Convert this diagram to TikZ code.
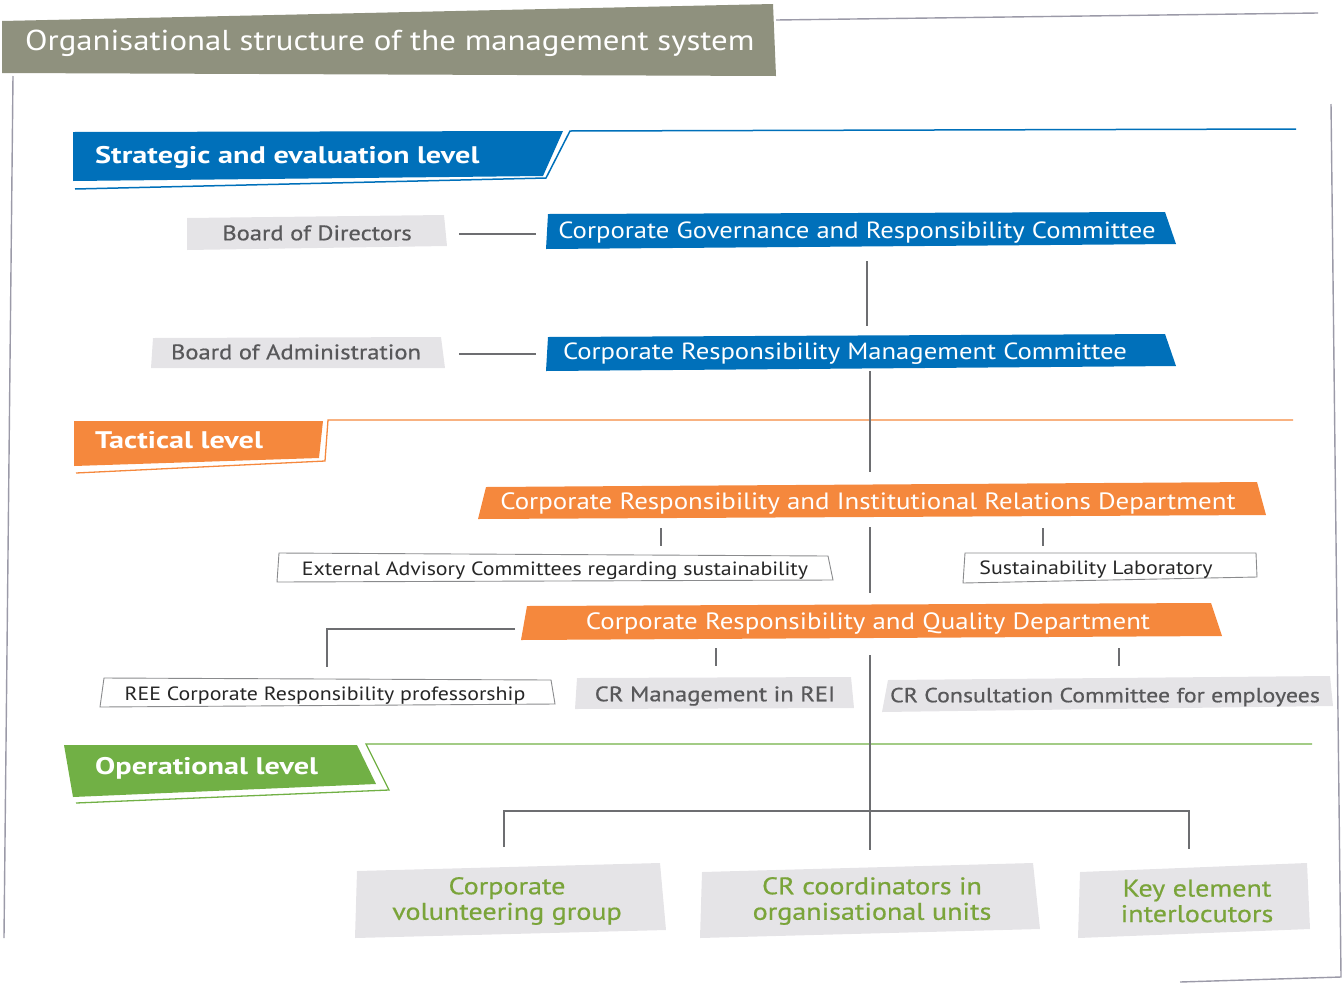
\documentclass[tikz,border=0pt]{standalone}
\usepackage{fontspec}
\setmainfont{PT Sans}[FakeStretch=1.14]
\newfontfamily\medfont{PT Sans}[FakeBold=0.6,FakeStretch=1.17]
\newfontfamily\headfont{PT Sans Bold}[FakeStretch=1.26]
\definecolor{titlegray}{HTML}{8F917E}
\definecolor{reeblue}{HTML}{0070BA}
\definecolor{reeorange}{HTML}{F5883D}
\definecolor{reegreen}{HTML}{71B045}
\definecolor{boxgray}{HTML}{E5E4E7}
\definecolor{textgray}{HTML}{58585A}
\definecolor{greentext}{HTML}{7AA43A}
\definecolor{linkgray}{HTML}{6D6E71}
\definecolor{framegray}{HTML}{9B9AA8}
\begin{document}
\begin{tikzpicture}[x=1pt,y=-1pt,
  frame/.style={draw=framegray,line width=1.4pt},
  link/.style={draw=linkgray,line width=1.2pt},
  lbl/.style={inner sep=0pt,text height=1.0em,text depth=0.05em,anchor=center,yshift=-3.5pt},
  headtxt/.style={lbl,anchor=west,text=white,font=\headfont\fontsize{24}{26}\selectfont},
  bluetxt/.style={lbl,text=white,font=\fontsize{23.4}{26}\selectfont},
  orangetxt/.style={lbl,text=white,font=\fontsize{23.6}{26}\selectfont},
  graytxt/.style={lbl,text=textgray,font=\medfont\fontsize{21}{24}\selectfont},
  outlinetxt/.style={lbl,text=black!85,font=\fontsize{19.2}{22}\selectfont},
  greentxt/.style={inner sep=0pt,align=center,text=greentext,font=\medfont\fontsize{24}{25.5}\selectfont},
]
\useasboundingbox (0,0) rectangle (1343,983);

% ---- page frame and title banner
\draw[frame] (776,20) -- (1318,13);
\draw[frame] (13,76) -- (4,938);
\draw[frame] (1331,104) -- (1341,977) -- (1180,982);
\fill[titlegray] (2,21) -- (773,4) -- (776,76) -- (2,73) -- cycle;
\node[lbl,anchor=west,yshift=-2.5pt,text=white,font=\fontsize{28.8}{32}\selectfont] (title) at (25,40)
  {Organisational structure of the management system};

% ---- level headers
\fill[reeblue] (73,132) -- (563,131) -- (543,176) -- (73,181) -- cycle;
\draw[reeblue,line width=1.5pt] (75,189) -- (546,178) -- (570,131) -- (1296,129);
\node[headtxt] (strategic) at (95,155) {Strategic and evaluation level};

\fill[reeorange] (74,421) -- (323,421) -- (319,458) -- (74,466) -- cycle;
\draw[reeorange,line width=1.3pt] (76,473) -- (325,461) -- (328,420) -- (1293,420);
\node[headtxt] (tactical) at (95,440) {Tactical level};

\fill[reegreen] (64,745) -- (357,745) -- (376,784) -- (73,797) -- cycle;
\draw[reegreen,line width=1.3pt] (76,803) -- (389,790) -- (366,744) -- (1312,744);
\node[headtxt] (operational) at (95,766) {Operational level};

% ---- strategic and evaluation level
\fill[boxgray] (187,218) -- (444,215) -- (447,246) -- (187,250) -- cycle;
\node[graytxt] (bod) at (317,232) {Board of Directors};
\fill[reeblue] (548,214) -- (1165,212) -- (1176,244) -- (546,249) -- cycle;
\node[bluetxt] (cgrc) at (857,230) {Corporate Governance and Responsibility Committee};

\fill[boxgray] (153,338) -- (441,337) -- (445,368) -- (151,368) -- cycle;
\node[graytxt] (boa) at (296,351) {Board of Administration};
\fill[reeblue] (548,337) -- (1165,334) -- (1176,366) -- (546,371) -- cycle;
\node[bluetxt] (crmc) at (845,351) {Corporate Responsibility Management Committee};

% ---- tactical level
\fill[reeorange] (486,487) -- (1257,482) -- (1266,515) -- (478,519) -- cycle;
\node[orangetxt] (crird) at (868,501) {Corporate Responsibility and Institutional Relations Department};

\draw[draw=linkgray!80,line width=0.9pt,fill=white] (279,553) -- (828,556) -- (833,580) -- (277,582) -- cycle;
\node[outlinetxt] (eac) at (555,567) {External Advisory Committees regarding sustainability};
\draw[draw=linkgray!80,line width=0.9pt,fill=white] (965,553) -- (1256,553) -- (1257,577) -- (963,583) -- cycle;
\node[outlinetxt] (slab) at (1096,566) {Sustainability Laboratory};

\fill[reeorange] (527,606) -- (1211,603) -- (1222,636) -- (521,640) -- cycle;
\node[orangetxt] (crqd) at (868,621) {Corporate Responsibility and Quality Department};

\draw[draw=linkgray!80,line width=0.9pt,fill=white] (104,678) -- (551,680) -- (555,704) -- (100,707) -- cycle;
\node[outlinetxt] (ree) at (325,692) {REE Corporate Responsibility professorship};
\fill[boxgray] (577,678) -- (851,677) -- (854,708) -- (575,709) -- cycle;
\node[graytxt] (crmrei) at (715,693) {CR Management in REI};
\fill[boxgray] (888,680) -- (1330,676) -- (1333,706) -- (882,712) -- cycle;
\node[graytxt,font=\medfont\fontsize{20.4}{24}\selectfont] (crcc) at (1105,694) {CR Consultation Committee for employees};

% ---- operational level
\fill[boxgray] (357,871) -- (660,863) -- (666,930) -- (355,938) -- cycle;
\node[greentxt] (vol) at (507,901) {Corporate\\volunteering group};
\fill[boxgray] (702,872) -- (1033,863) -- (1040,929) -- (700,938) -- cycle;
\node[greentxt] (coord) at (872,901) {CR coordinators in\\organisational units};
\fill[boxgray] (1080,872) -- (1307,863) -- (1310,929) -- (1078,938) -- cycle;
\node[greentxt] (keyel) at (1197,901) {Key element\\interlocutors};

% ---- connector end points
\coordinate (bod-r) at (459,234);   \coordinate (cgrc-l) at (536,234);
\coordinate (boa-r) at (459,354);   \coordinate (crmc-l) at (536,354);
\coordinate (cgrc-b) at (867,261);  \coordinate (crmc-t) at (867,326);
\coordinate (crmc-b) at (870,371);  \coordinate (crird-t) at (870,472);
\coordinate (crird-b) at (870,527); \coordinate (crqd-t) at (870,593);
\coordinate (crird-bl) at (661,528); \coordinate (eac-t) at (661,546);
\coordinate (crird-br) at (1043,528); \coordinate (slab-t) at (1043,546);
\coordinate (crqd-l) at (515,629);  \coordinate (ree-t) at (327,667);
\coordinate (crqd-bl) at (716,648); \coordinate (crmrei-t) at (716,666);
\coordinate (crqd-br) at (1119,648); \coordinate (crcc-t) at (1119,666);
\coordinate (crqd-b) at (870,655);  \coordinate (coord-t) at (870,850);
\coordinate (vol-t) at (504,847);   \coordinate (keyel-t) at (1189,849);

% ---- connectors
\draw[link] (bod-r) -- (cgrc-l);
\draw[link] (boa-r) -- (crmc-l);
\draw[link] (cgrc-b) -- (crmc-t);
\draw[link] (crmc-b) -- (crird-t);
\draw[link] (crird-b) -- (crqd-t);
\draw[link] (crird-bl) -- (eac-t);
\draw[link] (crird-br) -- (slab-t);
\draw[link] (crqd-l) -| (ree-t);
\draw[link] (crqd-bl) -- (crmrei-t);
\draw[link] (crqd-br) -- (crcc-t);
\draw[link] (crqd-b) -- (coord-t);
\draw[link] (vol-t) |- (870,811) -| (keyel-t);
\end{tikzpicture}
\end{document}
